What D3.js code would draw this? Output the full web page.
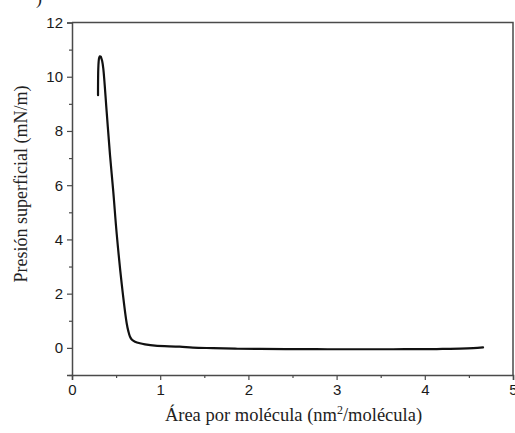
<!DOCTYPE html>
<html><head><meta charset="utf-8">
<script src="https://cdn.jsdelivr.net/npm/d3@7"></script>
<style>
body{margin:0;background:#fff;}
svg{display:block;}
</style></head>
<body>
<svg id="chart" width="515" height="433"></svg>
<script>
// Data
const areaValues = [0.295, 0.295, 0.296, 0.298, 0.302, 0.308, 0.316, 0.325, 0.333, 0.342, 0.355, 0.393, 0.431, 0.468, 0.507, 0.563, 0.620, 0.640, 0.658, 0.680, 0.714, 0.77, 0.828, 0.941, 1.22, 1.37, 1.6, 1.85, 2.13, 2.5, 2.9, 3.3, 3.64, 4.0, 4.2, 4.4, 4.55, 4.66];
const pressureValues = [9.32, 9.6, 9.95, 10.3, 10.55, 10.7, 10.75, 10.74, 10.68, 10.58, 10.3, 8.71, 7.11, 5.76, 4.2, 2.38, 0.91, 0.6, 0.41, 0.3, 0.23, 0.17, 0.13, 0.08, 0.045, 0.01, -0.01, -0.03, -0.04, -0.045, -0.05, -0.05, -0.05, -0.045, -0.04, -0.03, -0.01, 0.02];
const xTicks = [0, 1, 2, 3, 4, 5];
const xMinorTicks = [0.5, 1.5, 2.5, 3.5, 4.5];
const yTicks = [0, 2, 4, 6, 8, 10, 12];
const yMinorTicks = [-1, 1, 3, 5, 7, 9, 11];
const xLabel = "Área por molécula (nm";
const xLabelSup = "2";
const xLabelEnd = "/molécula)";
const yLabel = "Presión superficial (mN/m)";

const svg = d3.select("#chart");
const mLeft = 72, mRight = 513, mTop = 22.5, mBottom = 375;
const x = d3.scaleLinear().domain([0, 5]).range([mLeft, mRight]);
const y = d3.scaleLinear().domain([-1, 12]).range([mBottom, mTop]);
const axisColor = "#4a4a4a";

// frame (top and right)
svg.append("path")
  .attr("d", `M${mLeft},${mTop}H${mRight}V${mBottom}`)
  .attr("fill", "none").attr("stroke", axisColor).attr("stroke-width", 1.5);

// x axis
svg.append("g").attr("transform", `translate(0,${mBottom})`)
  .call(d3.axisBottom(x).tickValues(xTicks).tickSize(5).tickPadding(4).tickFormat(d3.format("d")));
svg.append("g").attr("transform", `translate(0,${mBottom})`)
  .call(d3.axisBottom(x).tickValues(xMinorTicks).tickSize(3).tickFormat(""))
  .call(g => g.select(".domain").remove());

// y axis
svg.append("g").attr("transform", `translate(${mLeft},0)`)
  .call(d3.axisLeft(y).tickValues(yTicks).tickSize(5).tickPadding(4).tickFormat(d3.format("d")));
svg.append("g").attr("transform", `translate(${mLeft},0)`)
  .call(d3.axisLeft(y).tickValues(yMinorTicks).tickSize(3).tickFormat(""))
  .call(g => g.select(".domain").remove());

svg.selectAll(".domain").attr("stroke", axisColor).attr("stroke-width", 1.5);
svg.selectAll(".tick line").attr("stroke", axisColor).attr("stroke-width", 1.2);
svg.selectAll(".tick text").attr("fill", "#1a1a1a")
  .style("font-family", "'Liberation Sans', Arial, sans-serif").style("font-size", "15px");

// curve
svg.append("path")
  .datum(pressureValues)
  .attr("d", d3.line().x((d, i) => x(areaValues[i])).y(d => y(d)).curve(d3.curveCatmullRom.alpha(0.5)))
  .attr("fill", "none").attr("stroke", "#111").attr("stroke-width", 2.2)
  .attr("stroke-linejoin", "round").attr("stroke-linecap", "round");

// axis titles
const xt = svg.append("text")
  .attr("x", (mLeft + mRight) / 2 + 1).attr("y", 421)
  .attr("text-anchor", "middle")
  .style("font-family", "'Liberation Serif', 'Times New Roman', serif").style("font-size", "18.5px")
  .attr("fill", "#222");
xt.append("tspan").text(xLabel);
xt.append("tspan").text(xLabelSup).attr("dy", -7).style("font-size", "12px");
xt.append("tspan").text(xLabelEnd).attr("dy", 7);

svg.append("text")
  .attr("transform", `translate(27,184) rotate(-90)`)
  .attr("text-anchor", "middle")
  .style("font-family", "'Liberation Serif', 'Times New Roman', serif").style("font-size", "18px")
  .attr("fill", "#222")
  .text(yLabel);

// cropped panel letter at top-left
svg.append("text").attr("x", 36).attr("y", 4)
  .style("font-family", "'Liberation Serif', serif").style("font-size", "18px").attr("fill", "#222").text(")");
</script>
</body></html>
